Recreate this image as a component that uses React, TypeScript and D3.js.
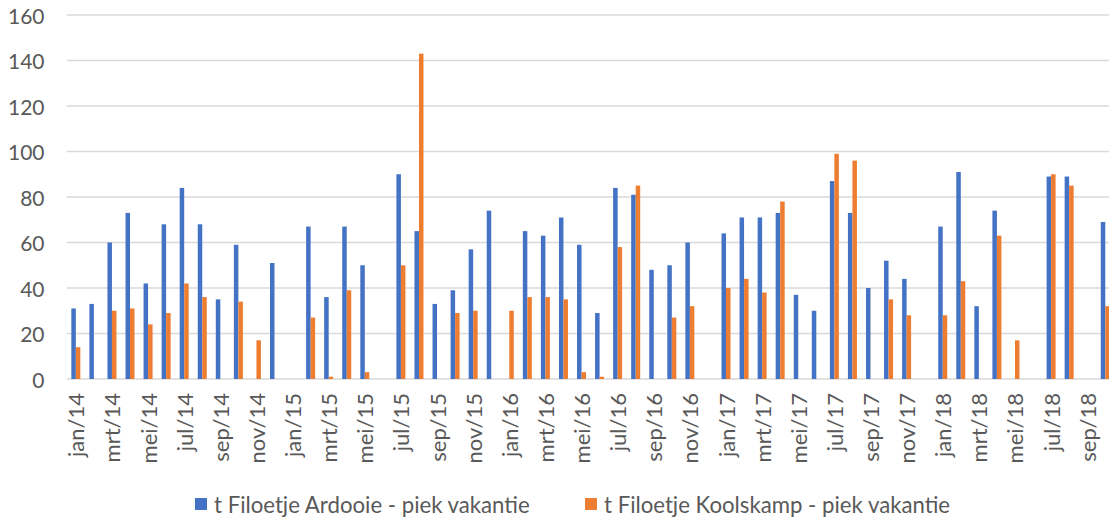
import React from "react";
import * as d3 from "d3";

const months = [
  "jan/14","feb/14","mrt/14","apr/14","mei/14","jun/14","jul/14","aug/14","sep/14","okt/14","nov/14","dec/14",
  "jan/15","feb/15","mrt/15","apr/15","mei/15","jun/15","jul/15","aug/15","sep/15","okt/15","nov/15","dec/15",
  "jan/16","feb/16","mrt/16","apr/16","mei/16","jun/16","jul/16","aug/16","sep/16","okt/16","nov/16","dec/16",
  "jan/17","feb/17","mrt/17","apr/17","mei/17","jun/17","jul/17","aug/17","sep/17","okt/17","nov/17","dec/17",
  "jan/18","feb/18","mrt/18","apr/18","mei/18","jun/18","jul/18","aug/18","sep/18","okt/18",
];

const ardooie: (number | null)[] = [
  31, 33, 60, 73, 42, 68, 84, 68, 35, 59, null, 51,
  null, 67, 36, 67, 50, null, 90, 65, 33, 39, 57, 74,
  null, 65, 63, 71, 59, 29, 84, 81, 48, 50, 60, null,
  64, 71, 71, 73, 37, 30, 87, 73, 40, 52, 44, null,
  67, 91, 32, 74, null, null, 89, 89, null, 69,
];

const koolskamp: (number | null)[] = [
  14, null, 30, 31, 24, 29, 42, 36, null, 34, 17, null,
  null, 27, 1, 39, 3, null, 50, 143, null, 29, 30, null,
  30, 36, 36, 35, 3, 1, 58, 85, null, 27, 32, null,
  40, 44, 38, 78, null, null, 99, 96, null, 35, 28, null,
  28, 43, null, 63, 17, null, 90, 85, null, 32,
];

const yTicks = [0, 20, 40, 60, 80, 100, 120, 140, 160];

const seriesNames = [
  "t Filoetje Ardooie - piek vakantie",
  "t Filoetje Koolskamp - piek vakantie",
];
const colors = ["#4472C4", "#ED7D31"];

const W = 1109;
const H = 520;
const FONT = "Lato, 'Open Sans', sans-serif";
const TEXT = "#595959";
const GRID = "#D9D9D9";

export default function App() {
  const x = d3.scaleBand<string>().domain(months).range([66.8, 1114.3]).padding(0);
  const y = d3.scaleLinear().domain([0, 160]).range([379, 15]);
  const bw = 4.5;
  const series = [ardooie, koolskamp];

  return (
    <div style={{ position: "absolute", left: 0, top: 0 }}>
      <svg width={W} height={H} style={{ display: "block", overflow: "hidden", background: "#fff" }}>
        {yTicks.map((t) => (
          <g key={t}>
            <line x1={66.8} x2={W} y1={y(t)} y2={y(t)} stroke={GRID} strokeWidth={1.5} />
            <text
              x={44.5}
              y={y(t)}
              textAnchor="end"
              dominantBaseline="central"
              fontFamily={FONT}
              fontSize={21}
              fill={TEXT}
            >
              {t}
            </text>
          </g>
        ))}
        {series.map((vals, si) =>
          vals.map((v, i) => {
            if (v == null) return null;
            const cx = (x(months[i]) as number) + x.bandwidth() / 2;
            const bx = si === 0 ? cx - bw : cx;
            return (
              <rect
                key={`${si}-${i}`}
                x={bx}
                y={y(v)}
                width={bw}
                height={y(0) - y(v)}
                fill={colors[si]}
              />
            );
          })
        )}
        {months.map((m, i) =>
          i % 2 === 0 ? (
            <text
              key={m}
              transform={`translate(${(x(m) as number) + x.bandwidth() / 2},393) rotate(-90)`}
              textAnchor="end"
              dominantBaseline="central"
              fontFamily={FONT}
              fontSize={22}
              fill={TEXT}
            >
              {m}
            </text>
          ) : null
        )}
        {seriesNames.map((n, i) => {
          const lx = i === 0 ? 195 : 585;
          return (
            <g key={n}>
              <rect x={lx} y={498} width={12} height={12} fill={colors[i]} />
              <text x={lx + 19} y={504} dominantBaseline="central" fontFamily={FONT} fontSize={22.2} fill={TEXT}>
                {n}
              </text>
            </g>
          );
        })}
      </svg>
    </div>
  );
}
